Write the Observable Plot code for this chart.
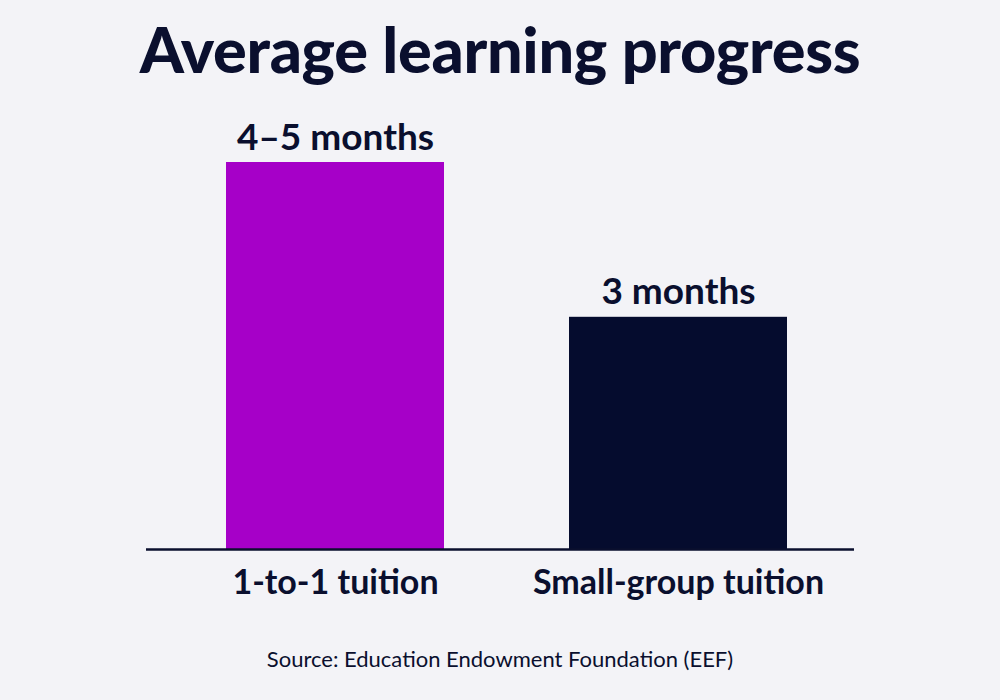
<!DOCTYPE html>
<html>
<head>
<meta charset="utf-8">
<script src="https://cdn.jsdelivr.net/npm/d3@7"></script>
<script src="https://cdn.jsdelivr.net/npm/@observablehq/plot@0.6"></script>
<style>
  html, body { margin: 0; padding: 0; background: #F3F3F7; width: 1000px; height: 700px; overflow: hidden; }
  body { font-family: Lato, "Noto Sans", sans-serif; color: #0A0F2E; }
  #title { height: 100px; box-sizing: border-box; padding-top: 17px; text-align: center; font-size: 63px; font-weight: 900; line-height: 1; letter-spacing: -0.3px; }
  #chart svg { display: block; background: transparent; }
  #caption { text-align: center; font-size: 22px; font-weight: 400; line-height: 1; margin-top: 8px; }
</style>
</head>
<body>
<div id="title">Average learning progress</div>
<div id="chart"></div>
<div id="caption">Source: Education Endowment Foundation (EEF)</div>
<script>
const categories = ["1-to-1 tuition", "Small-group tuition"];
const values = [5, 3];
const valueLabels = ["4–5 months", "3 months"];
const barColors = ["#A600C8", "#050C2E"];

const navy = "#0A0F2E";
const data = categories.map((c, i) => ({ category: c, value: values[i], label: valueLabels[i], color: barColors[i] }));

const chart = Plot.plot({
  width: 1000,
  height: 540,
  marginTop: 62,
  marginBottom: 91,
  marginLeft: 101,
  marginRight: 88,
  style: { background: "transparent", fontFamily: "Lato, 'Noto Sans', sans-serif", color: navy },
  x: { domain: categories, padding: 0.364, axis: null },
  y: { domain: [0, 5], axis: null },
  color: { type: "identity" },
  marks: [
    Plot.barY(data, { x: "category", y: "value", fill: "color" }),
    Plot.ruleY([0], { stroke: navy, strokeWidth: 2.5, insetLeft: 45, insetRight: 58 }),
    Plot.text(data, { x: "category", y: "value", text: "label", lineAnchor: "bottom", dy: -13, fontSize: 37, fontWeight: 700, fill: navy }),
    Plot.axisX({ tickSize: 0, tickPadding: 20, fontSize: 34, fontWeight: 700, fill: navy, label: null })
  ]
});
document.getElementById("chart").appendChild(chart);
</script>
</body>
</html>
